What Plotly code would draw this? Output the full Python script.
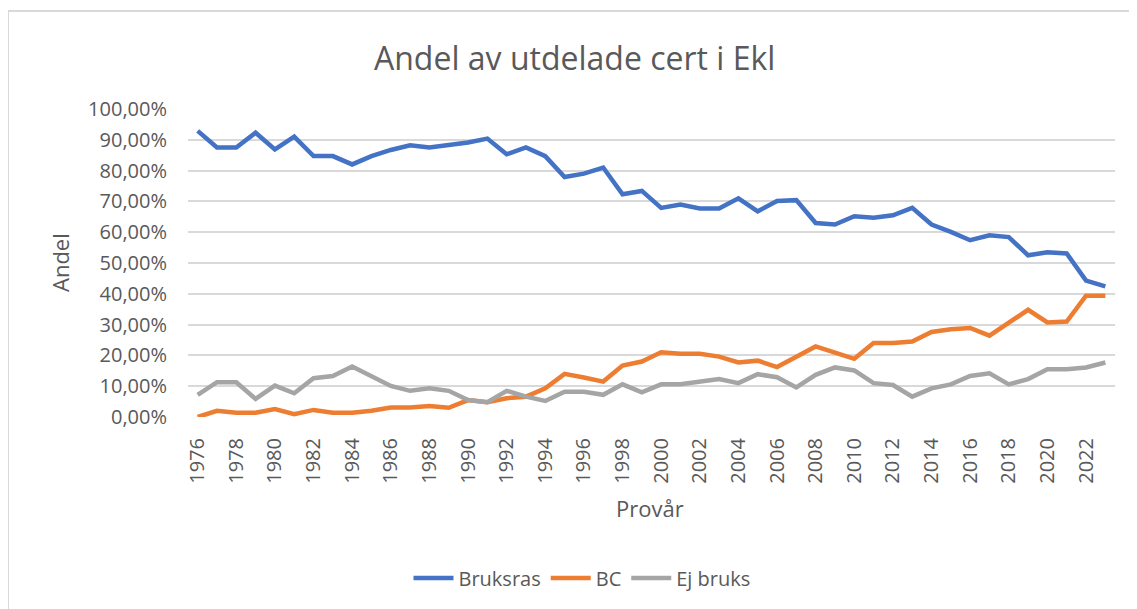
import plotly.graph_objects as go

years = list(range(1976, 2024))
bruksras = [92.9, 87.5, 87.5, 92.3, 86.9, 91.0, 84.7, 84.7, 82.0, 84.7,
            86.7, 88.2, 87.5, 88.3, 89.1, 90.4, 85.3, 87.5, 84.7, 77.9,
            79.0, 81.0, 72.3, 73.4, 67.9, 69.0, 67.7, 67.7, 71.0, 66.8,
            70.1, 70.4, 63.0, 62.5, 65.2, 64.7, 65.5, 67.9, 62.5, 60.1,
            57.4, 59.0, 58.4, 52.5, 53.5, 53.1, 44.3, 42.4]
bc = [0.0, 2.0, 1.4, 1.4, 2.6, 0.9, 2.3, 1.4, 1.4, 2.0,
      3.1, 3.1, 3.6, 3.0, 5.5, 4.8, 6.1, 6.6, 9.3, 14.0,
      12.8, 11.5, 16.7, 18.0, 21.0, 20.5, 20.5, 19.6, 17.7, 18.3,
      16.2, 19.6, 22.9, 20.9, 18.9, 24.0, 24.0, 24.5, 27.6, 28.5,
      28.9, 26.4, 30.7, 34.8, 30.7, 31.0, 39.4, 39.4]
ej_bruks = [7.2, 11.3, 11.3, 5.9, 10.2, 7.7, 12.6, 13.3, 16.4, 13.3,
            10.1, 8.5, 9.3, 8.5, 5.5, 4.8, 8.5, 6.6, 5.2, 8.2,
            8.2, 7.2, 10.6, 8.0, 10.6, 10.6, 11.5, 12.3, 11.0, 13.9,
            12.9, 9.6, 13.7, 16.1, 15.1, 11.0, 10.4, 6.6, 9.3, 10.6,
            13.3, 14.2, 10.6, 12.3, 15.5, 15.5, 16.1, 17.7]
series_names = ["Bruksras", "BC", "Ej bruks"]
colors = ["#4472C4", "#ED7D31", "#A5A5A5"]
y_ticks = [i / 10 for i in range(11)]
x_ticks = list(range(1976, 2024, 2))

FONT = "Open Sans"
TXT = "#595959"

fig = go.Figure()
for name, vals, col in zip(series_names, [bruksras, bc, ej_bruks], colors):
    fig.add_trace(go.Scatter(x=years, y=[v / 100 for v in vals], mode="lines",
                             name=name, line=dict(color=col, width=4.5)))

OFF = 8  # page body margin
W, H = 1137 - OFF, 609 - OFF
L = 188 - OFF
T = 109 - OFF
R = W - (1115 - OFF)
B = H - (417 - OFF)
pw, ph = W - L - R, H - T - B


def px(x):
    return (x - OFF - L) / pw


def py(y):
    return (H - B - (y - OFF)) / ph


fig.update_layout(
    width=W, height=H,
    margin=dict(l=L, r=R, t=T, b=B, pad=0),
    paper_bgcolor="white", plot_bgcolor="white",
    separators=", ",
    font=dict(family=FONT, color=TXT, size=20),
    showlegend=True,
    legend=dict(orientation="h", x=px(582), y=py(578), xanchor="center",
                yanchor="middle", font=dict(size=20, color=TXT),
                itemwidth=40, tracegroupgap=0),
    xaxis=dict(range=[1975.5, 2023.5], tickvals=x_ticks,
               ticktext=[str(v) for v in x_ticks], tickangle=-90,
               showgrid=False, zeroline=False, showline=False,
               ticks="", ticklabelstandoff=16,
               tickfont=dict(size=20, color=TXT, family=FONT)),
    yaxis=dict(range=[0, 1], tickvals=y_ticks, tickformat=".2%",
               showgrid=True, gridcolor="#D9D9D9", gridwidth=1.5,
               zeroline=False, showline=False, ticks="",
               ticklabelstandoff=20,
               tickfont=dict(size=20, color=TXT, family=FONT)),
    shapes=[
        dict(type="line", xref="paper", yref="paper", x0=px(8), x1=px(1137),
             y0=py(11), y1=py(11), line=dict(color="#D9D9D9", width=2)),
        dict(type="line", xref="paper", yref="paper", x0=px(8), x1=px(8),
             y0=py(11), y1=py(609), line=dict(color="#D9D9D9", width=2)),
    ],
    annotations=[
        dict(text="Andel av utdelade cert i Ekl", xref="paper", yref="paper",
             x=px(574), y=py(57), xanchor="center", yanchor="middle",
             showarrow=False, font=dict(size=32, color=TXT, family=FONT)),
        dict(text="Andel", xref="paper", yref="paper", x=px(60), y=py(263),
             xanchor="center", yanchor="middle", textangle=-90,
             showarrow=False, font=dict(size=22, color=TXT, family=FONT)),
        dict(text="Provår", xref="paper", yref="paper", x=px(650), y=py(508),
             xanchor="center", yanchor="middle",
             showarrow=False, font=dict(size=22, color=TXT, family=FONT)),
    ],
)

fig.write_html("out.html")
